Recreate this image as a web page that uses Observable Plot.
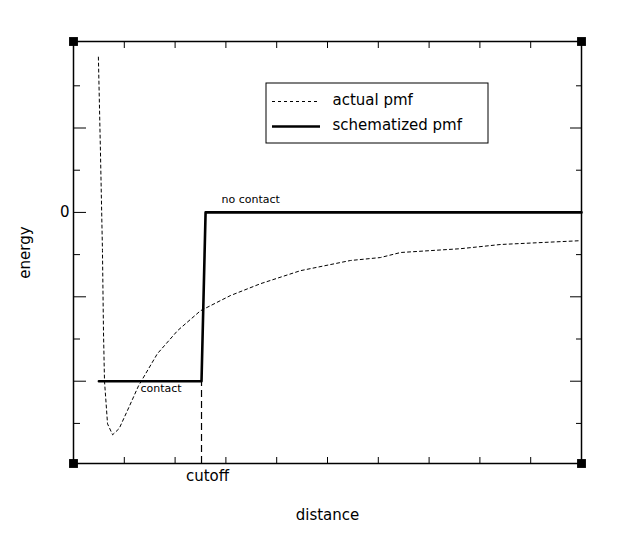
<!DOCTYPE html>
<html>
<head>
<meta charset="utf-8">
<script src="https://cdn.jsdelivr.net/npm/d3@7"></script>
<script src="https://cdn.jsdelivr.net/npm/@observablehq/plot@0.6"></script>
<style>
  html, body { margin: 0; padding: 0; background: #fff; }
</style>
</head>
<body>
<div id="chart"></div>
<script>
// ---- data ----
const xDomain = [0, 10];
const yDomain = [-5.95, 4.05];
const xTicks = [1, 2, 3, 4, 5, 6, 7, 8, 9];
const yLongTicks = [-4, -2, 0, 2];
const yShortTicks = [-5, -3, -1, 1, 3];
const yLabelTicks = [0];

const actualX = [0.49, 0.53, 0.57, 0.59, 0.61, 0.67, 0.77, 0.90, 1.06, 1.28, 1.65, 2.05, 2.50, 3.09, 3.68, 4.47, 5.45, 6.04, 6.44, 7.62, 8.41, 9.98];
const actualY = [3.68, 1.47, -0.90, -2.80, -3.99, -5.01, -5.27, -5.12, -4.70, -4.11, -3.35, -2.80, -2.33, -1.97, -1.69, -1.38, -1.14, -1.07, -0.95, -0.86, -0.76, -0.67];

const schemX = [0.5, 2.52, 2.6, 10];
const schemY = [-4, -4, 0, 0];

const cutoffX = 2.52;
const contactLevel = -4;

const actual = actualX.map((x, i) => ({x, y: actualY[i]}));
const schem = schemX.map((x, i) => ({x, y: schemY[i]}));

// pixel -> data helpers for annotation placement
const W = 630, H = 537, mL = 73, mR = 49, mT = 41, mB = 74;
const kx = (W - mL - mR) / (xDomain[1] - xDomain[0]);
const ky = (H - mT - mB) / (yDomain[1] - yDomain[0]);
const px = v => xDomain[0] + (v - mL) / kx;
const py = v => yDomain[1] - (v - mT) / ky;

const corners = [
  {x: xDomain[0], y: yDomain[0]}, {x: xDomain[1], y: yDomain[0]},
  {x: xDomain[0], y: yDomain[1]}, {x: xDomain[1], y: yDomain[1]}
];

const chart = Plot.plot({
  width: W, height: H,
  marginLeft: mL, marginRight: mR, marginTop: mT, marginBottom: mB,
  x: {domain: xDomain},
  y: {domain: yDomain},
  style: {fontFamily: "DejaVu Sans", background: "#fff", color: "#000"},
  marks: [
    Plot.frame({stroke: "#000", strokeWidth: 1.5}),
    // ticks (inward)
    Plot.axisX(xTicks, {anchor: "bottom", tickSize: -6, tickFormat: () => "", label: null}),
    Plot.axisX(xTicks, {anchor: "top", tickSize: -6, tickFormat: () => "", label: null}),
    Plot.axisY(yLongTicks, {anchor: "left", tickSize: -13, tickFormat: () => "", label: null}),
    Plot.axisY(yShortTicks, {anchor: "left", tickSize: -7, tickFormat: () => "", label: null}),
    Plot.axisY(yLongTicks, {anchor: "right", tickSize: -12, tickFormat: () => "", label: null}),
    Plot.axisY(yShortTicks, {anchor: "right", tickSize: -6, tickFormat: () => "", label: null}),
    Plot.axisY(yLabelTicks, {anchor: "left", tickSize: 0, tickPadding: 4, fontSize: 15, label: null}),
    // corner squares
    Plot.dot(corners, {x: "x", y: "y", symbol: "square", r: 5, fill: "#000", stroke: null}),
    // cutoff dashed line
    Plot.ruleX([cutoffX], {y1: yDomain[0], y2: contactLevel, stroke: "#000", strokeWidth: 1.2, strokeDasharray: "7,4"}),
    // actual pmf
    Plot.line(actual, {x: "x", y: "y", stroke: "#000", strokeWidth: 1, strokeDasharray: "3,3"}),
    // schematized pmf
    Plot.line(schem, {x: "x", y: "y", stroke: "#000", strokeWidth: 2.6}),
    // annotations
    Plot.text(["contact"], {x: px(140), y: py(388), textAnchor: "start", fontSize: 11}),
    Plot.text(["no contact"], {x: px(221), y: py(199), textAnchor: "start", fontSize: 11}),
    Plot.text(["cutoff"], {x: cutoffX, y: yDomain[0], dy: 13, dx: 6, fontSize: 15}),
    Plot.text(["distance"], {frameAnchor: "bottom", dy: 56, fontSize: 15}),
    Plot.text(["energy"], {frameAnchor: "left", dx: -48, rotate: -90, textAnchor: "middle", fontSize: 15}),
    // legend
    Plot.rect([0], {x1: px(266), x2: px(488), y1: py(143), y2: py(83), fill: "#fff", stroke: "#000", strokeWidth: 1}),
    Plot.ruleY([py(101)], {x1: px(272), x2: px(320), stroke: "#000", strokeWidth: 1, strokeDasharray: "3,3"}),
    Plot.ruleY([py(126)], {x1: px(272), x2: px(320), stroke: "#000", strokeWidth: 2.6}),
    Plot.text(["actual pmf"], {x: px(332), y: py(100), textAnchor: "start", fontSize: 15}),
    Plot.text(["schematized pmf"], {x: px(332), y: py(125), textAnchor: "start", fontSize: 15})
  ]
});
document.getElementById("chart").appendChild(chart);
</script>
</body>
</html>
